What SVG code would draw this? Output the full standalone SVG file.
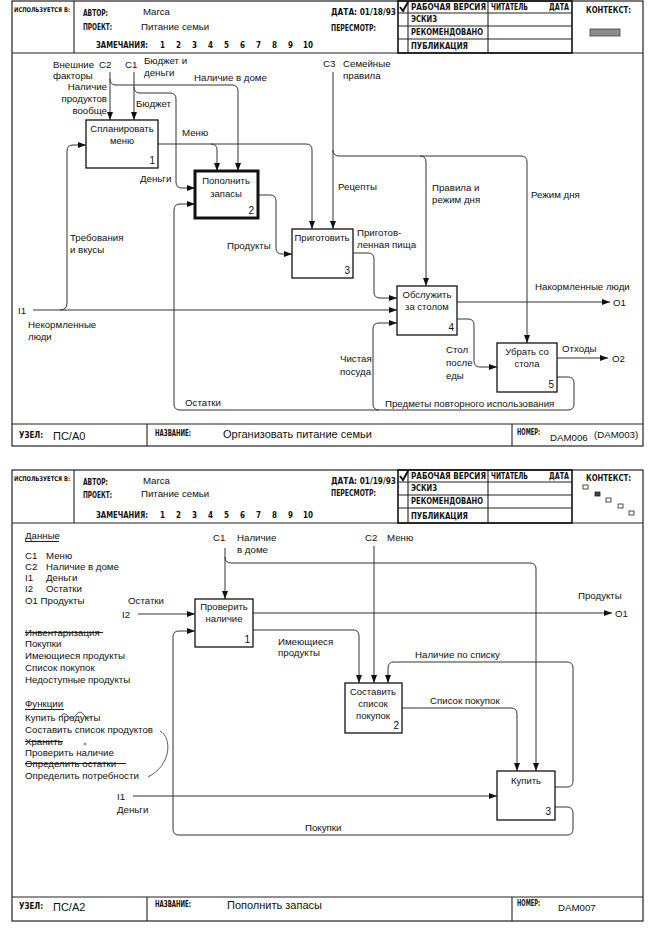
<svg xmlns="http://www.w3.org/2000/svg" width="655" height="929" viewBox="0 0 655 929">
<style>
.fr{fill:none;stroke:#222;stroke-width:1.2}
.tb{fill:none;stroke:#111;stroke-width:1.6}
.ln{stroke:#222;stroke-width:1.1;fill:none}
.hd{font-family:"DejaVu Sans Condensed","DejaVu Sans",sans-serif;font-size:8px;font-weight:bold;fill:#111}
.us{font-size:6.5px}
.lb{font-family:"Liberation Sans","DejaVu Sans",sans-serif;font-size:9.7px;fill:#111}
.big{font-family:"Liberation Sans","DejaVu Sans",sans-serif;font-size:11px;fill:#111}
.bt{font-family:"Liberation Sans","DejaVu Sans",sans-serif;font-size:9.5px;fill:#111;text-anchor:middle}
.nm{font-family:"Liberation Sans","DejaVu Sans",sans-serif;font-size:10px;fill:#111;text-anchor:end}
.bx{fill:#fff;stroke:#111;stroke-width:1.3}
.bxk{fill:#fff;stroke:#111;stroke-width:3}
.c{fill:none;stroke:#333;stroke-width:1}
.ca{fill:none;stroke:#333;stroke-width:1;marker-end:url(#ah)}
.sq{fill:#fff;stroke:#222;stroke-width:0.8}
</style>
<defs>
<marker id="ah" viewBox="0 0 8 6" refX="8" refY="3" markerWidth="8" markerHeight="6" markerUnits="userSpaceOnUse" orient="auto"><path d="M0,0 L8,3 L0,6 z" fill="#111"/></marker>
</defs>
<rect width="655" height="929" fill="#fff"/>

<!-- ===================== DIAGRAM A0 ===================== -->
<g id="frame-a0">
<rect class="fr" x="12" y="1" width="631" height="445"/>
<line class="ln" x1="12" y1="53" x2="643" y2="53"/>
<line class="ln" x1="74" y1="1" x2="74" y2="53"/>
<rect class="tb" x="398" y="1" width="174" height="52"/>
<line class="ln" x1="408" y1="1" x2="408" y2="53"/>
<line class="ln" x1="488" y1="1" x2="488" y2="53"/>
<line class="ln" x1="398" y1="13" x2="572" y2="13"/>
<line class="ln" x1="398" y1="26" x2="572" y2="26"/>
<line class="ln" x1="398" y1="39" x2="572" y2="39"/>
<path d="M400,7 L403,11 L408,2" fill="none" stroke="#111" stroke-width="2"/>
<text class="hd us" x="14" y="12" textLength="56" lengthAdjust="spacingAndGlyphs">ИСПОЛЬЗУЕТСЯ В:</text>
<text class="hd" x="83" y="16" textLength="25" lengthAdjust="spacingAndGlyphs">АВТОР:</text>
<text class="lb" x="143" y="15">Marca</text>
<text class="hd" x="83" y="30" textLength="29" lengthAdjust="spacingAndGlyphs">ПРОЕКТ:</text>
<text class="lb" x="141" y="30">Питание семьи</text>
<text class="hd" x="96" y="48" textLength="52" lengthAdjust="spacingAndGlyphs">ЗАМЕЧАНИЯ:</text>
<text class="hd" y="48"><tspan x="160">1</tspan><tspan x="176">2</tspan><tspan x="192">3</tspan><tspan x="208">4</tspan><tspan x="224">5</tspan><tspan x="240">6</tspan><tspan x="256">7</tspan><tspan x="272">8</tspan><tspan x="288">9</tspan><tspan x="303">10</tspan></text>
<text class="hd" x="331" y="15" textLength="65" lengthAdjust="spacingAndGlyphs">ДАТА: 01/18/93</text>
<text class="hd" x="331" y="31" textLength="45" lengthAdjust="spacingAndGlyphs">ПЕРЕСМОТР:</text>
<text class="hd" x="411" y="10" textLength="75" lengthAdjust="spacingAndGlyphs">РАБОЧАЯ ВЕРСИЯ</text>
<text class="hd" x="411" y="22" textLength="26" lengthAdjust="spacingAndGlyphs">ЭСКИЗ</text>
<text class="hd" x="411" y="35" textLength="72" lengthAdjust="spacingAndGlyphs">РЕКОМЕНДОВАНО</text>
<text class="hd" x="411" y="49" textLength="57" lengthAdjust="spacingAndGlyphs">ПУБЛИКАЦИЯ</text>
<text class="hd" x="491" y="10" textLength="37" lengthAdjust="spacingAndGlyphs">ЧИТАТЕЛЬ</text>
<text class="hd" x="549" y="10" textLength="20" lengthAdjust="spacingAndGlyphs">ДАТА</text>
<text class="hd" x="586" y="13" textLength="45" lengthAdjust="spacingAndGlyphs">КОНТЕКСТ:</text>
<rect x="590" y="29" width="30" height="7" fill="#8a8a8a" stroke="#444" stroke-width="0.8"/>
<line class="ln" x1="12" y1="424" x2="643" y2="424"/>
<line class="ln" x1="147" y1="424" x2="147" y2="446"/>
<line class="ln" x1="512" y1="424" x2="512" y2="446"/>
<text class="hd" x="19" y="438" textLength="24" lengthAdjust="spacingAndGlyphs">УЗЕЛ:</text>
<text class="big" x="53" y="440" font-size="12">ПС/А0</text>
<text class="hd" x="155" y="436" textLength="36" lengthAdjust="spacingAndGlyphs">НАЗВАНИЕ:</text>
<text class="big" x="223" y="438">Организовать питание семьи</text>
<text class="hd" x="517" y="435" textLength="23" lengthAdjust="spacingAndGlyphs">НОМЕР:</text>
<text class="lb" x="550" y="441">DAM006</text>
<text class="lb" x="594" y="438">(DAM003)</text>
</g>

<g id="connectors-a0">
<path class="ca" d="M110,72 V120"/>
<path class="ca" d="M110,79 Q110,85 116,85 H232 Q238,85 238,91 V171"/>
<path class="ca" d="M134,72 V120"/>
<path class="ca" d="M134,87 Q134,93 140,93 H170 Q176,93 176,99 V182 Q176,188 182,188 H195"/>
<path class="ca" d="M158,144 H211 Q217,144 217,150 V171"/>
<path class="ca" d="M211,144 H306 Q312,144 312,150 V229"/>
<path class="ca" d="M333,72 V229"/>
<path class="ca" d="M333,150 Q333,156 339,156 H420 Q426,156 426,162 V286"/>
<path class="ca" d="M420,156 H521 Q527,156 527,162 V343"/>
<path class="ca" d="M258,195 H270 Q276,195 276,201 V248 Q276,254 282,254 H292"/>
<path class="ca" d="M353,253 H368 Q374,253 374,259 V292 Q374,298 380,298 H397"/>
<path class="ca" d="M33,310 H397"/>
<path class="ca" d="M60,310 Q67,310 67,303 V151 Q67,145 73,145 H86"/>
<path class="ca" d="M457,302 H610"/>
<path class="ca" d="M457,319 H468 Q474,319 474,325 V361 Q474,367 480,367 H497"/>
<path class="ca" d="M557,358 H608"/>
<path class="ca" d="M557,377 H568 Q574,377 574,383 V404 Q574,410 568,410 H180 Q174,410 174,404 V210 Q174,204 180,204 H195"/>
<path class="ca" d="M379,410 Q373,410 373,404 V329 Q373,323 379,323 H397"/>
</g>

<g id="labels-a0">
<text class="lb" x="53" y="68">Внешние</text>
<text class="lb" x="99" y="68">C2</text>
<text class="lb" x="53" y="79">факторы</text>
<text class="lb" x="125" y="68">C1</text>
<text class="lb" x="144" y="64">Бюджет и</text>
<text class="lb" x="144" y="76">деньги</text>
<text class="lb" x="194" y="81">Наличие в доме</text>
<text class="lb" x="107" y="90" text-anchor="end">Наличие</text>
<text class="lb" x="107" y="102" text-anchor="end">продуктов</text>
<text class="lb" x="107" y="114" text-anchor="end">вообще</text>
<text class="lb" x="136" y="107">Бюджет</text>
<text class="lb" x="182" y="136">Меню</text>
<text class="lb" x="140" y="182">Деньги</text>
<text class="lb" x="323" y="67">C3</text>
<text class="lb" x="343" y="67">Семейные</text>
<text class="lb" x="343" y="79">правила</text>
<text class="lb" x="338" y="190">Рецепты</text>
<text class="lb" x="432" y="191">Правила и</text>
<text class="lb" x="432" y="203">режим дня</text>
<text class="lb" x="531" y="198">Режим дня</text>
<text class="lb" x="70" y="241">Требования</text>
<text class="lb" x="70" y="253">и вкусы</text>
<text class="lb" x="227" y="249">Продукты</text>
<text class="lb" x="357" y="236">Приготов-</text>
<text class="lb" x="357" y="248">ленная пища</text>
<text class="lb" x="18" y="314">I1</text>
<text class="lb" x="28" y="328">Некормленные</text>
<text class="lb" x="28" y="340">люди</text>
<text class="lb" x="535" y="290">Накормленные люди</text>
<text class="lb" x="613" y="306">O1</text>
<text class="lb" x="446" y="353">Стол</text>
<text class="lb" x="446" y="366">после</text>
<text class="lb" x="446" y="379">еды</text>
<text class="lb" x="562" y="352">Отходы</text>
<text class="lb" x="612" y="362">O2</text>
<text class="lb" x="340" y="362">Чистая</text>
<text class="lb" x="340" y="375">посуда</text>
<text class="lb" x="185" y="406">Остатки</text>
<text class="lb" x="385" y="407">Предметы повторного использования</text>
</g>

<g id="a0-box1"><rect class="bx" x="86" y="120" width="72" height="48"/><text class="bt" x="122" y="132">Спланировать</text><text class="bt" x="122" y="144">меню</text><text class="nm" x="155" y="164">1</text></g>
<g id="a0-box2"><rect class="bxk" x="195" y="171" width="63" height="47"/><text class="bt" x="226" y="184">Пополнить</text><text class="bt" x="226" y="197">запасы</text><text class="nm" x="254" y="214">2</text></g>
<g id="a0-box3"><rect class="bx" x="292" y="229" width="61" height="49"/><text class="bt" x="322" y="241">Приготовить</text><text class="nm" x="350" y="274">3</text></g>
<g id="a0-box4"><rect class="bx" x="397" y="286" width="60" height="49"/><text class="bt" x="427" y="298">Обслужить</text><text class="bt" x="427" y="310">за столом</text><text class="nm" x="454" y="331">4</text></g>
<g id="a0-box5"><rect class="bx" x="497" y="343" width="60" height="49"/><text class="bt" x="527" y="355">Убрать со</text><text class="bt" x="527" y="367">стола</text><text class="nm" x="554" y="388">5</text></g>

<!-- ===================== DIAGRAM A2 ===================== -->
<g id="frame-a2">
<rect class="fr" x="12" y="470" width="631" height="451"/>
<line class="ln" x1="12" y1="523" x2="643" y2="523"/>
<line class="ln" x1="74" y1="470" x2="74" y2="523"/>
<rect class="tb" x="398" y="470" width="174" height="53"/>
<line class="ln" x1="408" y1="470" x2="408" y2="523"/>
<line class="ln" x1="488" y1="470" x2="488" y2="523"/>
<line class="ln" x1="398" y1="482" x2="572" y2="482"/>
<line class="ln" x1="398" y1="495" x2="572" y2="495"/>
<line class="ln" x1="398" y1="508" x2="572" y2="508"/>
<path d="M400,476 L403,480 L408,471" fill="none" stroke="#111" stroke-width="2"/>
<text class="hd us" x="14" y="481" textLength="56" lengthAdjust="spacingAndGlyphs">ИСПОЛЬЗУЕТСЯ В:</text>
<text class="hd" x="83" y="485" textLength="25" lengthAdjust="spacingAndGlyphs">АВТОР:</text>
<text class="lb" x="143" y="484">Marca</text>
<text class="hd" x="83" y="498" textLength="29" lengthAdjust="spacingAndGlyphs">ПРОЕКТ:</text>
<text class="lb" x="141" y="497">Питание семьи</text>
<text class="hd" x="96" y="518" textLength="52" lengthAdjust="spacingAndGlyphs">ЗАМЕЧАНИЯ:</text>
<text class="hd" y="518"><tspan x="160">1</tspan><tspan x="176">2</tspan><tspan x="192">3</tspan><tspan x="208">4</tspan><tspan x="224">5</tspan><tspan x="240">6</tspan><tspan x="256">7</tspan><tspan x="272">8</tspan><tspan x="288">9</tspan><tspan x="303">10</tspan></text>
<text class="hd" x="331" y="484" textLength="65" lengthAdjust="spacingAndGlyphs">ДАТА: 01/19/93</text>
<text class="hd" x="331" y="496" textLength="45" lengthAdjust="spacingAndGlyphs">ПЕРЕСМОТР:</text>
<text class="hd" x="411" y="479" textLength="75" lengthAdjust="spacingAndGlyphs">РАБОЧАЯ ВЕРСИЯ</text>
<text class="hd" x="411" y="491" textLength="26" lengthAdjust="spacingAndGlyphs">ЭСКИЗ</text>
<text class="hd" x="411" y="504" textLength="72" lengthAdjust="spacingAndGlyphs">РЕКОМЕНДОВАНО</text>
<text class="hd" x="411" y="519" textLength="57" lengthAdjust="spacingAndGlyphs">ПУБЛИКАЦИЯ</text>
<text class="hd" x="491" y="479" textLength="37" lengthAdjust="spacingAndGlyphs">ЧИТАТЕЛЬ</text>
<text class="hd" x="549" y="479" textLength="20" lengthAdjust="spacingAndGlyphs">ДАТА</text>
<text class="hd" x="586" y="481" textLength="45" lengthAdjust="spacingAndGlyphs">КОНТЕКСТ:</text>
<rect class="sq" x="583" y="485" width="5" height="4"/>
<rect x="595" y="492" width="5" height="4" fill="#444" stroke="#222" stroke-width="0.8"/>
<rect class="sq" x="606" y="498" width="5" height="4"/>
<rect class="sq" x="618" y="504" width="5" height="4"/>
<rect class="sq" x="629" y="511" width="5" height="4"/>
<line class="ln" x1="12" y1="897" x2="643" y2="897"/>
<line class="ln" x1="147" y1="897" x2="147" y2="921"/>
<line class="ln" x1="512" y1="897" x2="512" y2="921"/>
<text class="hd" x="19" y="909" textLength="24" lengthAdjust="spacingAndGlyphs">УЗЕЛ:</text>
<text class="big" x="53" y="911" font-size="12">ПС/А2</text>
<text class="hd" x="155" y="907" textLength="36" lengthAdjust="spacingAndGlyphs">НАЗВАНИЕ:</text>
<text class="big" x="227" y="909">Пополнить запасы</text>
<text class="hd" x="517" y="906" textLength="23" lengthAdjust="spacingAndGlyphs">НОМЕР:</text>
<text class="lb" x="558" y="911">DAM007</text>
</g>

<g id="notes-a2">
<text class="lb" x="25" y="539">Данные</text>
<line class="ln" x1="25" y1="541.5" x2="59" y2="541.5" stroke-width="0.8"/>
<text class="lb" x="25" y="559">C1</text><text class="lb" x="46" y="559">Меню</text>
<text class="lb" x="25" y="570">C2</text><text class="lb" x="46" y="570">Наличие в доме</text>
<text class="lb" x="25" y="581">I1</text><text class="lb" x="46" y="581">Деньги</text>
<text class="lb" x="25" y="592">I2</text><text class="lb" x="46" y="592">Остатки</text>
<text class="lb" x="25" y="604">O1 Продукты</text>
<text class="lb" x="25" y="636">Инвентаризация</text>
<line class="ln" x1="25" y1="632.5" x2="103" y2="632.5" stroke-width="0.8"/>
<text class="lb" x="25" y="647">Покупки</text>
<text class="lb" x="25" y="659">Имеющиеся продукты</text>
<text class="lb" x="25" y="671">Список покупок</text>
<text class="lb" x="25" y="683">Недоступные продукты</text>
<text class="lb" x="25" y="707">Функции</text>
<line class="ln" x1="25" y1="709.5" x2="64" y2="709.5" stroke-width="0.8"/>
<text class="lb" x="25" y="721">Купить продукты</text>
<path d="M60,717 q4,-6 8,-1 t8,-1 t8,0 t8,1" fill="none" stroke="#333" stroke-width="0.8"/>
<text class="lb" x="25" y="733">Составить список продуктов</text>
<text class="lb" x="25" y="745">Хранить</text>
<line class="ln" x1="25" y1="741.5" x2="63" y2="741.5" stroke-width="0.8"/>
<circle cx="85" cy="744" r="1.5" fill="#999"/>
<text class="lb" x="25" y="756">Проверить наличие</text>
<text class="lb" x="25" y="767">Определить остатки</text>
<line class="ln" x1="25" y1="763.5" x2="126" y2="763.5" stroke-width="0.8"/>
<text class="lb" x="25" y="779">Определить потребности</text>
<path d="M160,731 C172,737 172,765 148,777" fill="none" stroke="#333" stroke-width="0.8"/>
</g>

<g id="connectors-a2">
<path class="ca" d="M225,548 V599"/>
<path class="ca" d="M225,557 Q225,563 231,563 H530 Q536,563 536,569 V771"/>
<path class="ca" d="M374,546 V683"/>
<path class="ca" d="M138,614 H195"/>
<path class="ca" d="M555,807 H567 Q573,807 573,813 V829 Q573,835 567,835 H179 Q173,835 173,829 V637 Q173,631 179,631 H195"/>
<path class="ca" d="M253,613 H612"/>
<path class="ca" d="M253,630 H353 Q359,630 359,636 V683"/>
<path class="ca" d="M555,787 H567 Q573,787 573,781 V668 Q573,662 567,662 H394 Q388,662 388,668 V683"/>
<path class="ca" d="M402,708 H511 Q517,708 517,714 V771"/>
<path class="ca" d="M133,796 H497"/>
</g>

<g id="labels-a2">
<text class="lb" x="213" y="541">C1</text>
<text class="lb" x="237" y="541">Наличие</text>
<text class="lb" x="237" y="553">в доме</text>
<text class="lb" x="365" y="541">C2</text>
<text class="lb" x="387" y="541">Меню</text>
<text class="lb" x="128" y="604">Остатки</text>
<text class="lb" x="122" y="618">I2</text>
<text class="lb" x="578" y="599">Продукты</text>
<text class="lb" x="615" y="617">O1</text>
<text class="lb" x="278" y="645">Имеющиеся</text>
<text class="lb" x="278" y="656">продукты</text>
<text class="lb" x="415" y="658">Наличие по списку</text>
<text class="lb" x="430" y="704">Список покупок</text>
<text class="lb" x="117" y="800">I1</text>
<text class="lb" x="117" y="813">Деньги</text>
<text class="lb" x="305" y="831">Покупки</text>
</g>

<g id="a2-box1"><rect class="bx" x="195" y="599" width="58" height="48"/><text class="bt" x="224" y="610">Проверить</text><text class="bt" x="224" y="622">наличие</text><text class="nm" x="250" y="643">1</text></g>
<g id="a2-box2"><rect class="bx" x="345" y="683" width="57" height="50"/><text class="bt" x="373" y="695">Составить</text><text class="bt" x="373" y="707">список</text><text class="bt" x="373" y="719">покупок</text><text class="nm" x="399" y="729">2</text></g>
<g id="a2-box3"><rect class="bx" x="497" y="771" width="58" height="49"/><text class="bt" x="526" y="784">Купить</text><text class="nm" x="551" y="815">3</text></g>
</svg>
